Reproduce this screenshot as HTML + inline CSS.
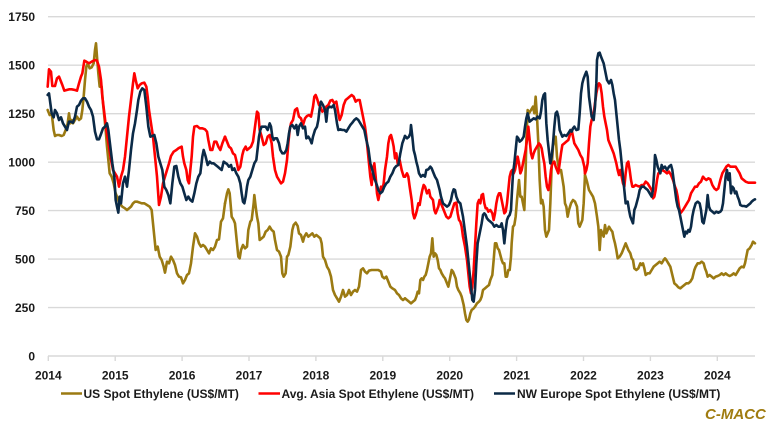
<!DOCTYPE html>
<html><head><meta charset="utf-8"><style>
html,body{margin:0;padding:0;background:#fff;}
svg{display:block;}
text{font-family:"Liberation Sans",Arial,sans-serif;font-weight:bold;fill:#1a1a1a;}
</style></head><body>
<svg width="776" height="425" viewBox="0 0 776 425" xmlns="http://www.w3.org/2000/svg">
<rect width="776" height="425" fill="#fff"/>
<g stroke="#d9d9d9" stroke-width="1.4">
<line x1="48" y1="16.7" x2="755" y2="16.7"/>
<line x1="48" y1="65.2" x2="755" y2="65.2"/>
<line x1="48" y1="113.7" x2="755" y2="113.7"/>
<line x1="48" y1="162.2" x2="755" y2="162.2"/>
<line x1="48" y1="210.6" x2="755" y2="210.6"/>
<line x1="48" y1="259.1" x2="755" y2="259.1"/>
<line x1="48" y1="307.6" x2="755" y2="307.6"/>
<line x1="48" y1="356" x2="755" y2="356"/>
<line x1="48.3" y1="356" x2="48.3" y2="361"/>
<line x1="115.2" y1="356" x2="115.2" y2="361"/>
<line x1="182.1" y1="356" x2="182.1" y2="361"/>
<line x1="249" y1="356" x2="249" y2="361"/>
<line x1="315.9" y1="356" x2="315.9" y2="361"/>
<line x1="382.8" y1="356" x2="382.8" y2="361"/>
<line x1="449.7" y1="356" x2="449.7" y2="361"/>
<line x1="516.6" y1="356" x2="516.6" y2="361"/>
<line x1="583.5" y1="356" x2="583.5" y2="361"/>
<line x1="650.4" y1="356" x2="650.4" y2="361"/>
<line x1="717.3" y1="356" x2="717.3" y2="361"/>
</g>
<g font-size="12" text-anchor="end">
<text x="35" y="21">1750</text>
<text x="35" y="69.5">1500</text>
<text x="35" y="118">1250</text>
<text x="35" y="166.5">1000</text>
<text x="35" y="215">750</text>
<text x="35" y="263.5">500</text>
<text x="35" y="312">250</text>
<text x="35" y="360.3">0</text>
</g>
<g font-size="12" text-anchor="middle">
<text x="48.3" y="379.5">2014</text>
<text x="115.2" y="379.5">2015</text>
<text x="182.1" y="379.5">2016</text>
<text x="249" y="379.5">2017</text>
<text x="315.9" y="379.5">2018</text>
<text x="382.8" y="379.5">2019</text>
<text x="449.7" y="379.5">2020</text>
<text x="516.6" y="379.5">2021</text>
<text x="583.5" y="379.5">2022</text>
<text x="650.4" y="379.5">2023</text>
<text x="717.3" y="379.5">2024</text>
</g>

<g fill="none" stroke-linejoin="round" stroke-linecap="round">
<!-- GOLD -->
<g stroke="#9b7a12">
<polyline vector-effect="non-scaling-stroke" stroke-width="2.6" transform="translate(45,30) scale(0.33333)" points="8,240 14,255 20,250 26,300 30,318 36,315 42,315 50,318 56,315 62,300 68,280 72,250 76,280 80,270 84,280 90,270 96,260 102,270 108,265 112,240 116,200 120,150 124,110 128,100 134,115 140,112 146,100 150,60 153,40 156,80 160,130 164,170 170,170 174,220 178,260 182,300 186,350 190,390 194,430 200,440 206,460 212,490 218,505 224,520 232,530 240,535 246,540 252,535 258,530 264,520 270,515 276,515 282,517 290,520 298,520 306,525 314,530 320,540 324,580 328,620 332,660 338,650 344,680 350,690 356,710 360,728 366,695 372,700 378,680 384,690 390,705 396,730 402,740 408,742 414,760 420,750 426,735 432,730 438,700 444,650 450,610 456,620 462,640 468,650 474,645 480,650 486,660 492,670 498,655 504,660 510,650 516,630 522,628 528,575 534,565 540,520"/>
<polyline vector-effect="non-scaling-stroke" stroke-width="2.6" transform="translate(225,30) scale(0.33333)" points="0,520 6,490 10,478 14,490 20,560 26,570 30,580 36,640 40,680 44,685 48,660 54,645 60,655 66,650 70,600 76,575 80,570 86,520 88,495 92,530 96,560 100,580 104,630 110,625 116,620 122,605 128,600 134,590 140,600 146,605 150,630 156,660 162,665 168,680 172,730 176,740 182,730 186,680 190,675 196,650 202,600 206,585 212,578 218,588 222,610 228,615 234,635 238,620 244,610 250,620 256,615 262,610 268,620 274,615 280,620 286,625 290,640 294,680 300,690 306,710 312,720 318,740 324,780 330,795 336,805 342,815 348,800 354,780 360,800 366,795 372,780 378,795 384,785 390,780 396,785 402,770 408,720 414,715 420,725 426,730 432,722 440,720 450,720 460,720 468,725 472,740 478,745 484,740 490,755 496,770 502,775 510,780 516,790 522,795 528,805 534,810 540,805"/>
<polyline vector-effect="non-scaling-stroke" stroke-width="2.6" transform="translate(405,30) scale(0.33333)" points="0,805 6,810 12,815 18,820 24,815 30,810 34,800 38,785 42,790 46,750 50,745 54,750 58,740 62,735 66,720 70,700 74,680 78,670 82,625 86,680 90,670 94,675 98,690 102,715 106,720 110,730 116,740 120,745 126,760 130,770 136,740 140,720 144,725 148,735 152,745 156,770 160,780 166,790 170,800 176,825 180,850 184,870 188,875 192,868 196,850 200,840 206,835 210,830 216,820 222,815 226,810 230,800 234,780 240,775 246,770 252,765 256,750 262,735 266,690 270,640 274,640 278,655 282,660 286,675 290,690 294,700 298,700 302,740 306,740 310,720 314,720 318,680 320,640 324,590 328,585 332,560 336,510 338,490 342,450 346,500 350,500 354,520 358,540 362,420 364,330 368,240 372,250 378,240 384,230 388,250 392,200 396,260 400,340 404,450 408,520 412,510 416,530 420,600 424,620 428,610 432,600 436,520 440,410 444,350 448,330 452,320 456,380 462,420 468,420 472,445 476,470 480,520 484,530 488,560 492,540 498,520 504,510 510,515 516,530 520,580 524,590 528,580 532,570 536,520 540,435"/>
<polyline vector-effect="non-scaling-stroke" stroke-width="2.6" transform="translate(585,30) scale(0.33333)" points="0,435 6,455 12,480 18,490 24,500 30,520 36,560 40,590 44,660 48,600 52,610 56,620 60,585 64,610 68,600 72,590 78,600 82,605 86,625 90,640 94,660 98,685 104,680 110,670 116,655 122,640 126,650 130,660 136,670 140,685 144,690 148,715 154,720 160,715 166,700 170,705 174,700 178,715 182,735 188,730 194,730 200,720 206,710 212,705 218,700 224,695 230,700 236,690 240,685 244,690 250,700 256,710 262,735 268,760 274,765 280,772 286,775 292,770 298,765 304,760 310,760 316,755 322,745 328,720 332,710 338,700 344,700 350,695 356,700 360,715 364,725 368,740 374,735 380,740 386,745 392,740 398,738 404,735 410,730 416,735 422,730 428,735 434,738 440,735 446,730 452,735 458,725 464,715 470,710 476,712 480,700 484,680 488,660 494,655 500,645 504,635 510,640"/>
</g>
<!-- RED -->
<g stroke="#ff0000">
<polyline vector-effect="non-scaling-stroke" stroke-width="2.6" transform="translate(45,30) scale(0.33333)" points="8,170 12,118 18,125 22,168 30,168 36,145 42,140 48,155 52,165 58,182 65,180 72,178 80,178 90,180 96,182 102,160 108,140 112,130 118,92 124,95 132,100 140,95 150,90 156,92 162,110 168,150 172,200 178,250 184,300 192,350 198,390 204,420 210,430 216,440 222,470 228,440 234,420 240,380 246,320 252,260 258,210 264,160 268,130 272,150 278,175 284,165 290,160 298,158 304,170 308,200 312,240 318,280 324,320 330,380 336,440 342,525 348,500 354,460 360,440 366,420 372,400 378,378 386,365 394,360 400,355 406,352 410,350 414,380 418,400 424,420 428,450 432,460 436,420 440,380 444,320 448,290 456,288 464,295 472,295 480,298 486,305 490,330 496,360 502,360 508,335 514,335 520,350 526,360 532,340 540,320"/>
<polyline vector-effect="non-scaling-stroke" stroke-width="2.6" transform="translate(225,30) scale(0.33333)" points="0,320 6,335 12,350 18,355 24,370 30,375 36,400 40,420 46,410 52,375 56,360 62,350 66,360 72,355 78,350 84,335 90,290 96,245 100,250 104,300 110,320 116,345 122,340 128,320 134,315 140,340 144,380 150,420 156,440 162,450 168,460 174,455 180,430 186,390 190,340 194,300 198,280 204,270 210,240 216,235 222,260 228,265 234,285 240,265 246,258 252,255 258,260 264,230 268,200 272,195 276,205 282,225 286,230 292,245 298,240 304,230 310,225 316,212 322,210 328,220 334,215 340,250 344,270 350,255 356,225 362,210 368,205 374,200 380,195 386,200 392,215 398,210 404,210 410,240 416,270 420,290 424,320 428,360 432,400 436,440 440,465 444,420 448,400 452,440 456,490 460,510 464,490 468,470 472,480 476,460 480,420 486,380 490,340 494,320 498,315 502,330 506,350 510,385 514,370 518,400 524,390 530,420 536,440 540,440"/>
<polyline vector-effect="non-scaling-stroke" stroke-width="2.6" transform="translate(405,30) scale(0.33333)" points="0,440 6,430 10,440 14,470 20,510 24,550 28,565 32,555 36,540 40,520 44,525 48,500 52,480 56,465 60,470 66,490 72,480 76,500 80,505 84,510 88,540 92,550 96,540 100,530 104,510 108,520 112,530 118,545 124,560 130,565 136,560 142,540 148,520 154,518 158,550 162,570 166,575 170,590 174,620 180,650 186,690 190,730 194,770 198,790 202,770 206,720 210,650 214,580 218,520 222,510 226,520 230,495 234,492 238,520 242,535 246,535 250,545 256,540 262,550 266,570 270,550 274,520 278,500 282,490 286,490 290,510 294,530 298,550 302,545 306,520 310,480 314,440 318,425 322,420 326,430 330,420 334,400 338,380 342,400 346,430 350,420 354,400 358,380 362,360 366,330 370,290 374,330 378,370 382,385 386,370 390,360 396,350 402,340 406,345 410,355 414,380 418,400 422,440 426,470 430,480 434,460 438,420 442,400 448,395 452,410 456,420 460,430 464,400 468,370 472,345 478,340 484,335 490,330 496,310 500,300 504,320 508,340 514,350 520,360 526,375 532,385 538,410 540,430"/>
<polyline vector-effect="non-scaling-stroke" stroke-width="2.6" transform="translate(585,30) scale(0.33333)" points="0,430 4,420 8,400 12,340 16,290 20,270 26,250 30,220 34,190 38,170 42,160 46,165 50,190 54,230 58,260 62,280 66,300 70,330 74,340 78,350 82,360 86,370 90,385 94,400 98,420 102,435 106,420 110,440 114,460 118,470 122,430 126,400 130,395 134,420 138,450 142,470 146,470 152,465 158,468 164,470 170,465 176,465 182,455 188,460 194,470 200,480 204,505 208,500 212,480 216,450 220,430 226,425 232,420 240,425 246,430 252,425 258,435 264,450 270,470 274,480 278,500 282,530 286,550 290,545 294,540 300,530 306,520 312,510 318,490 324,480 330,470 336,470 342,460 348,455 354,440 358,445 364,450 370,445 376,448 382,465 388,475 394,480 400,475 406,450 412,430 418,420 424,410 430,405 436,410 444,410 452,410 458,420 464,430 470,445 476,450 482,455 490,458 498,458 506,458 510,458"/>
</g>
<!-- NAVY -->
<g stroke="#0b2a47">
<polyline vector-effect="non-scaling-stroke" stroke-width="2.6" transform="translate(45,30) scale(0.33333)" points="8,195 12,190 16,220 20,250 26,262 30,240 36,250 42,270 48,262 54,280 60,290 66,300 72,275 78,275 84,278 90,260 96,230 102,225 108,212 114,205 120,205 126,215 132,230 138,240 144,260 150,305 156,328 162,328 168,312 174,295 180,290 186,280 190,300 196,350 202,400 208,440 212,510 216,530 220,548 224,500 228,520 234,460 240,440 246,470 252,420 258,360 264,310 270,280 276,240 280,210 286,185 292,175 298,180 304,230 310,290 316,320 322,318 328,315 334,340 340,380 346,400 352,420 358,470 364,480 370,495 376,520 382,460 388,410 394,408 400,440 406,460 412,470 418,490 424,510 430,500 436,510 442,515 448,490 454,460 460,440 466,430 472,380 476,360 482,380 488,405 494,395 500,400 506,400 512,405 518,410 524,415 530,420 536,395 540,398"/>
<polyline vector-effect="non-scaling-stroke" stroke-width="2.6" transform="translate(225,30) scale(0.33333)" points="0,398 6,402 12,410 18,405 22,420 28,415 34,430 40,440 46,460 50,490 54,515 58,520 62,500 66,470 70,450 76,440 82,420 88,400 94,390 98,355 102,320 106,300 110,290 116,290 122,290 128,300 134,280 138,290 142,320 146,330 150,325 156,325 162,340 166,360 172,370 178,370 184,360 188,340 192,310 196,290 202,285 208,295 214,285 218,315 222,290 228,280 234,295 240,290 244,325 250,320 256,330 260,340 264,320 270,300 276,290 280,270 284,235 288,215 294,225 300,240 304,275 308,235 314,230 320,232 326,225 330,240 336,280 340,300 346,298 352,300 358,300 364,305 370,295 376,285 382,278 388,270 394,265 400,270 406,280 412,290 418,300 424,330 430,355 436,400 442,420 448,445 454,460 460,480 466,490 472,485 478,470 484,460 490,455 496,440 502,430 508,415 514,408 520,405 526,370 532,340 540,318"/>
<polyline vector-effect="non-scaling-stroke" stroke-width="2.6" transform="translate(405,30) scale(0.33333)" points="0,318 6,325 12,320 16,310 18,285 22,320 26,360 30,375 34,395 38,410 42,430 48,440 54,435 60,440 64,420 70,418 76,410 80,415 86,430 90,440 96,450 100,465 104,480 108,500 114,520 120,525 126,530 132,525 138,510 142,490 146,478 150,480 154,500 160,515 166,520 170,540 174,560 178,590 182,620 186,650 190,690 194,730 198,770 202,810 206,815 210,780 214,700 218,640 222,620 226,600 230,580 234,555 238,550 242,555 246,565 250,570 256,575 262,580 268,590 274,585 280,590 286,590 290,580 294,600 298,640 302,600 306,570 310,560 314,555 318,540 320,500 324,430 328,400 332,360 336,320 340,325 344,335 350,330 356,320 360,290 364,265 368,250 374,275 380,270 386,265 392,268 398,260 404,265 408,245 412,210 416,195 420,190 424,280 428,330 432,365 436,400 440,380 444,340 448,290 452,250 456,245 460,260 464,300 468,310 472,320 478,315 484,318 490,310 496,300 500,305 504,295 508,290 514,300 520,298 524,250 528,190 532,160 536,145 540,135"/>
<polyline vector-effect="non-scaling-stroke" stroke-width="2.6" transform="translate(585,30) scale(0.33333)" points="0,135 4,125 8,140 12,200 16,230 20,260 26,270 30,230 34,160 36,90 40,70 44,68 48,80 52,90 56,100 60,120 66,150 72,160 78,150 82,165 86,190 90,210 94,250 98,290 102,330 106,360 110,400 114,440 118,480 122,520 128,515 132,540 136,560 140,570 144,580 148,540 152,530 156,515 160,500 164,480 170,470 176,470 182,475 188,480 194,490 200,500 204,480 208,420 210,375 214,390 218,410 222,420 226,430 230,405 234,415 240,410 246,420 252,410 258,405 262,420 266,450 270,480 274,510 278,530 282,540 286,560 290,580 294,600 298,620 302,605 306,610 310,600 314,605 318,590 322,560 326,540 332,520 338,515 344,520 348,540 352,575 356,580 360,560 364,540 368,495 372,530 376,540 382,545 388,550 394,545 400,548 406,545 410,540 414,520 418,480 422,440 426,420 430,450 434,430 438,490 442,470 446,475 450,490 454,485 458,500 462,510 466,525 472,528 478,528 484,530 490,525 496,520 500,515 506,510 510,508"/>
</g>
</g>

<!-- Legend -->
<g stroke-width="2.6">
<line x1="61" y1="393.5" x2="82" y2="393.5" stroke="#9b7a12"/>
<line x1="258.5" y1="393.5" x2="280" y2="393.5" stroke="#ff0000"/>
<line x1="494" y1="393.5" x2="515" y2="393.5" stroke="#0b2a47"/>
</g>
<g font-size="12">
<text x="83.5" y="398">US Spot Ethylene (US$/MT)</text>
<text x="281.5" y="398">Avg. Asia Spot Ethylene (US$/MT)</text>
<text x="517" y="398">NW Europe Spot Ethylene (US$/MT)</text>
</g>
<text x="705" y="419" font-size="15" font-style="italic" style="fill:#a07c10">C-MACC</text>
</svg>
</body></html>
